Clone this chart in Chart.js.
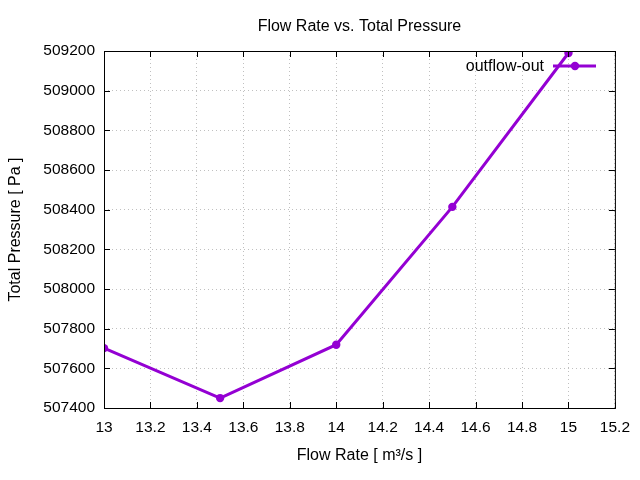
<!DOCTYPE html>
<html>
<head>
<meta charset="utf-8">
<script src="https://cdn.jsdelivr.net/npm/chart.js@4/dist/chart.umd.min.js"></script>
<style>
  html, body { margin: 0; padding: 0; background: #fff; }
  #wrap { width: 640px; height: 480px; }
</style>
</head>
<body>
<div id="wrap"><canvas id="flowChart" width="640" height="480"></canvas></div>
<script>
// Dữ liệu
const flowRate = [13, 13.5, 14, 14.5, 15];
const totalPressure = [507702, 507450, 507719, 508414, 509190];
const seriesName = "outflow-out";
const chartTitle = "Flow Rate vs. Total Pressure";
const xTitle = "Flow Rate [ m\u00B3/s ]";
const yTitle = "Total Pressure [ Pa ]";

const FONT = "'Liberation Sans', Arial, sans-serif";
const PURPLE = "#9400d3";

// Khung, vạch chia hướng vào trong, tiêu đề và chú thích kiểu gnuplot
const gnuplotFrame = {
  id: "gnuplotFrame",
  afterDatasetsDraw(chart) {
    const { ctx, chartArea: a, scales } = chart;
    ctx.save();
    ctx.strokeStyle = "#000";
    ctx.lineWidth = 1;
    ctx.strokeRect(a.left + 0.5, a.top + 0.5, a.right - a.left, a.bottom - a.top);
    const t = 6;
    ctx.beginPath();
    scales.x.ticks.forEach((tk) => {
      const px = Math.round(scales.x.getPixelForValue(tk.value)) + 0.5;
      ctx.moveTo(px, a.bottom); ctx.lineTo(px, a.bottom - t);
      ctx.moveTo(px, a.top); ctx.lineTo(px, a.top + t);
    });
    scales.y.ticks.forEach((tk) => {
      const py = Math.round(scales.y.getPixelForValue(tk.value)) + 0.5;
      ctx.moveTo(a.left, py); ctx.lineTo(a.left + t, py);
      ctx.moveTo(a.right, py); ctx.lineTo(a.right - t, py);
    });
    ctx.stroke();

    // Tiêu đề
    ctx.fillStyle = "#000";
    ctx.font = "16px " + FONT;
    ctx.textAlign = "center";
    ctx.textBaseline = "middle";
    ctx.fillText(chartTitle, (a.left + a.right) / 2, 27);

    // Chú thích
    ctx.textAlign = "right";
    ctx.fillText(seriesName, 544, 67);
    ctx.strokeStyle = PURPLE;
    ctx.lineWidth = 3;
    ctx.beginPath();
    ctx.moveTo(553, 66); ctx.lineTo(596, 66);
    ctx.stroke();
    ctx.fillStyle = PURPLE;
    ctx.beginPath();
    ctx.arc(575, 66, 4.2, 0, Math.PI * 2);
    ctx.fill();
    ctx.restore();
  },
};

const initChart = () => {
  const ctx = document.getElementById("flowChart").getContext("2d");
  new Chart(ctx, {
    type: "scatter",
    data: {
      datasets: [
        {
          label: seriesName,
          data: flowRate.map((x, i) => ({ x: x, y: totalPressure[i] })),
          showLine: true,
          borderColor: PURPLE,
          backgroundColor: PURPLE,
          borderWidth: 3,
          pointRadius: 4.2,
          pointBorderWidth: 0,
          pointHoverRadius: 4.2,
        },
      ],
    },
    options: {
      responsive: false,
      animation: false,
      layout: { padding: { left: 0, right: 25, top: 51, bottom: 0 } },
      plugins: {
        legend: { display: false },
        title: { display: false },
        tooltip: { enabled: false },
      },
      scales: {
        x: {
          type: "linear",
          min: 13,
          max: 15.2,
          ticks: {
            stepSize: 0.2,
            color: "#000",
            padding: 10,
            font: { family: FONT, size: 15.5 },
            callback: (v) => Number(v.toFixed(1)).toString(),
          },
          grid: {
            color: "#c0c0c0",
            drawTicks: false,
            lineWidth: 1,
          },
          border: { display: false, dash: [1, 3] },
          title: {
            display: true,
            text: xTitle,
            color: "#000",
            font: { family: FONT, size: 16 },
            padding: { top: 4, bottom: 15 },
          },
          afterFit: (s) => { s.height = 72; },
        },
        y: {
          min: 507400,
          max: 509200,
          ticks: {
            stepSize: 200,
            color: "#000",
            padding: 9,
            font: { family: FONT, size: 15.5 },
            callback: (v) => String(v),
          },
          grid: {
            color: "#c0c0c0",
            drawTicks: false,
            lineWidth: 1,
          },
          border: { display: false, dash: [1, 3] },
          title: {
            display: true,
            text: yTitle,
            color: "#000",
            font: { family: FONT, size: 16 },
            padding: { top: 6, bottom: 0 },
          },
          afterFit: (s) => { s.width = 104; },
        },
      },
    },
    plugins: [gnuplotFrame],
  });
};

document.addEventListener("DOMContentLoaded", initChart);
</script>
</body>
</html>
